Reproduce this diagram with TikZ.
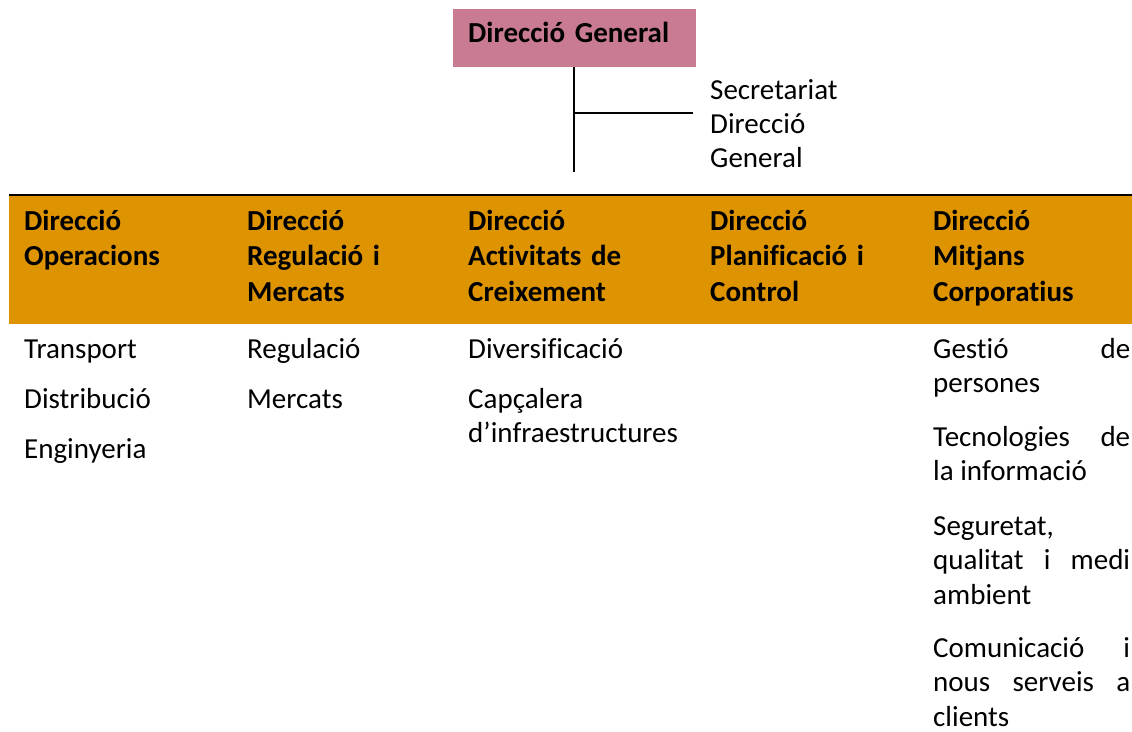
\documentclass[tikz,border=0pt]{standalone}
\usepackage{fontspec}
\setmainfont{Carlito}[Ligatures={NoCommon,NoContextual,NoRare},Contextuals=NoAlternate]
\definecolor{dgpink}{RGB}{201,123,145}
\definecolor{dirorange}{RGB}{221,148,0}
\hyphenpenalty=10000
\exhyphenpenalty=10000
\tolerance=10000
\tikzset{
  dirhead/.style={anchor=base west, inner sep=0pt, text width=210pt, align=left, font=\fontsize{29}{35.5}\selectfont\bfseries},
  unit/.style={anchor=base west, inner sep=0pt, text width=210pt, align=left, font=\fontsize{29}{34.5}\selectfont},
  unitjust/.style={unit, text width=197pt, align=justify},
  orgline/.style={line width=1.8pt},
}

\begin{document}
\begin{tikzpicture}[x=1pt,y=-1pt]
		%%%%% START %%%%%
		\useasboundingbox (0,0) rectangle (1132,731);
		
		\fill[dgpink] (453, 9) rectangle (696, 67);
		\node[dirhead] (dg) at (468, 42) {Direcció General};
		\coordinate (dgfoot) at (574, 67);
		\coordinate (dgend) at (574, 172);
		\coordinate (dgmid) at (574, 113);
		\coordinate (secend) at (693, 113);
		\node[unit, font=\fontsize{29}{34}\selectfont] (sec) at (710, 99) {Secretariat\\Direcció\\General};
		
		\draw[orgline] (dgfoot) -- (dgend);
		\draw[orgline] (dgmid) -- (secend);
		
		\fill[dirorange] (9, 196) rectangle (1132, 324);
		\draw[line width=2.3pt] (9, 195) -- (1132, 195);
		
		\node[dirhead] (ops) at (24, 230) {Direcció\\Operacions};
		\node[dirhead] (reg) at (247, 230) {Direcció\\Regulació i\\Mercats};
		\node[dirhead] (act) at (468, 230) {Direcció\\Activitats de\\Creixement};
		\node[dirhead] (pla) at (710, 230) {Direcció\\Planificació i\\Control};
		\node[dirhead] (mit) at (933, 230) {Direcció\\Mitjans\\Corporatius};
		
		\node[unit] (ops1) at (24, 358) {Transport};
		\node[unit] (ops2) at (24, 408) {Distribució};
		\node[unit] (ops3) at (24, 458) {Enginyeria};
		
		\node[unit] (reg1) at (247, 358) {Regulació};
		\node[unit] (reg2) at (247, 408) {Mercats};
		
		\node[unit] (act1) at (468, 358) {Diversificació};
		\node[unit] (act2) at (468, 408) {Capçalera\\d’infraestructures};
		
		\node[unitjust] (mit1) at (933, 358) {Gestió de persones};
		\node[unitjust] (mit2) at (933, 446) {Tecnologies de\linebreak la informació};
		\node[unitjust] (mit3) at (933, 535) {Seguretat, qualitat i medi ambient};
		\node[unitjust] (mit4) at (933, 657) {Comunicació i nous serveis a clients};
		
		%%%%% END %%%%%
\end{tikzpicture}
\end{document}
